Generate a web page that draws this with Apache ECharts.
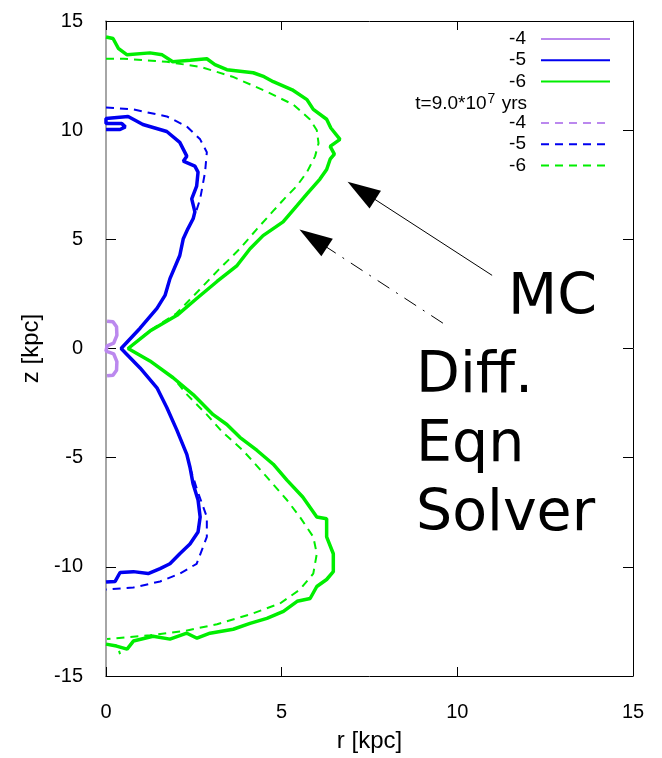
<!DOCTYPE html>
<html>
<head>
<meta charset="utf-8">
<script src="https://cdn.jsdelivr.net/npm/echarts@6/dist/echarts.min.js"></script>
<style>
html,body{margin:0;padding:0;background:#fff;}
#chart{width:662px;height:758px;}
</style>
</head>
<body>
<div id="chart"></div>
<script>
// ---- data (r [kpc], z [kpc]) ----
var xTicks = [0, 5, 10, 15];
var yTicks = [-15, -10, -5, 0, 5, 10, 15];

var mcMinus4 = [[0.03,1.25],[0.2,1.22],[0.3,1.0],[0.31,0.6],[0.22,0.25],[0.03,0.12],[0,0.12],[0,-0.12],[0.03,-0.12],[0.22,-0.25],[0.31,-0.6],[0.3,-1.0],[0.2,-1.22],[0.03,-1.25]];

var mcMinus5 = [[0,10.03],[0.4,10.03],[0.55,10.15],[0.45,10.3],[0,10.3],[0,10.53],[0.63,10.63],[1.05,10.26],[1.73,9.94],[2.1,9.44],[2.3,8.81],[2.2,8.58],[2.53,8.35],[2.62,8.08],[2.58,7.44],[2.44,6.85],[2.53,6.26],[2.48,5.94],[2.33,5.48],[2.2,5.03],[2.1,4.26],[1.82,3.2],[1.68,2.43],[1.45,1.84],[0.97,0.93],[0.43,0],[0.97,-0.89],[1.45,-1.8],[1.73,-2.7],[2.02,-3.75],[2.3,-4.85],[2.39,-5.44],[2.48,-6.21],[2.62,-6.94],[2.68,-7.72],[2.62,-8.4],[2.39,-8.95],[2.1,-9.4],[1.82,-9.86],[1.54,-10.08],[1.2,-10.31],[0.78,-10.22],[0.4,-10.26],[0.26,-10.67],[0,-10.7]];

var mcMinus6 = [[0,14.27],[0.2,14.2],[0.35,13.75],[0.6,13.45],[1.25,13.54],[1.6,13.45],[1.9,13.13],[2.4,13.2],[2.87,13.27],[3.1,13.0],[3.44,12.77],[4.19,12.63],[4.5,12.45],[4.76,12.22],[5.3,11.85],[5.72,11.4],[5.9,10.95],[6.28,10.5],[6.4,10.1],[6.66,9.58],[6.38,9.26],[6.5,8.9],[6.38,8.67],[6.28,8.2],[6.09,7.76],[5.72,7.08],[5.43,6.53],[5.04,5.8],[4.47,5.17],[4.1,4.57],[3.73,3.8],[3.16,3.07],[2.59,2.3],[2.02,1.52],[1.25,0.8],[0.63,0],[1.25,-0.57],[1.91,-1.34],[2.48,-2.11],[3.05,-3.03],[3.44,-3.48],[3.81,-4.07],[4.3,-4.67],[4.76,-5.3],[5.15,-6.03],[5.6,-6.8],[6.0,-7.72],[6.28,-7.8],[6.28,-8.63],[6.47,-9.4],[6.47,-10.22],[6.28,-10.58],[6.0,-10.9],[5.81,-11.45],[5.44,-11.58],[5.05,-12.04],[4.58,-12.36],[4.1,-12.59],[3.62,-12.86],[2.96,-13.04],[2.59,-13.27],[2.3,-13.04],[1.82,-13.31],[1.34,-13.18],[0.78,-13.4],[0.6,-13.77],[0.3,-13.63],[0,-13.54]];

var diffMinus4 = [[0.02,0.15],[0.02,-0.15]];

var diffMinus5 = [[0,11.04],[0.78,10.95],[1.73,10.63],[2.3,10.17],[2.68,9.58],[2.87,8.99],[2.82,8.08],[2.68,6.85],[2.55,6.2],[2.33,5.48],[2.2,5.03],[2.1,4.26],[1.82,3.2],[1.68,2.43],[1.45,1.84],[0.97,0.93],[0.43,0],[0.97,-0.89],[1.45,-1.8],[1.73,-2.7],[2.02,-3.75],[2.3,-4.85],[2.39,-5.44],[2.6,-6.5],[2.87,-7.72],[2.87,-8.63],[2.58,-9.86],[2.1,-10.31],[1.54,-10.67],[0.78,-10.95],[0,-11.04]];

var diffMinus6 = [[0,13.27],[0.5,13.27],[1.73,13.13],[2.68,12.9],[3.6,12.45],[4.57,11.77],[5.33,11.17],[5.8,10.5],[6.0,10.0],[6.05,9.4],[5.95,8.8],[5.72,8.08],[5.43,7.44],[5.1,6.9],[4.76,6.3],[4.3,5.48],[3.81,4.57],[3.2,3.6],[2.48,2.39],[2.0,1.6],[1.25,0.82],[0.63,0],[1.25,-0.57],[1.91,-1.34],[2.3,-2.1],[2.87,-3.03],[3.3,-3.8],[3.9,-4.67],[4.58,-5.89],[5.15,-6.94],[5.52,-7.72],[5.9,-8.63],[6.0,-9.4],[5.9,-10.31],[5.52,-11.04],[4.95,-11.68],[4.1,-12.18],[3.16,-12.63],[2.2,-12.95],[1.25,-13.13],[0.03,-13.31]];
var diffMinus6Tail = [[0.37,-13.85],[0.4,-14.0]];

// annotation arrows: [tail, head] in data coordinates
var arrowMC = [[10.99,3.35],[7.27,7.23]];
var arrowDiff = [[9.59,1.16],[5.90,5.04]];

var names = ['-4','-5','-6'];
var colors = ['#bb88ee','#0000f0','#00ee00'];

var chart = echarts.init(document.getElementById('chart'));
var font = 'Liberation Sans, Arial, sans-serif';

function solid(name, data, color) {
  return {name: name, type: 'line', data: data, showSymbol: false, symbol: 'none',
    lineStyle: {color: color, width: 3.5}, itemStyle: {color: color}, z: 3, animation: false};
}
function dashed(name, data, color) {
  return {name: name, type: 'line', data: data, showSymbol: false, symbol: 'none',
    lineStyle: {color: color, width: 2, type: [8, 6]}, itemStyle: {color: color}, z: 2, animation: false};
}

var legendCommon = {
  orient: 'vertical', right: 51, align: 'right', padding: 0,
  itemWidth: 69, itemHeight: 14, itemGap: 1.2,
  formatter: function (n) { return n.split(' ')[1]; },
  itemStyle: {opacity: 0, borderWidth: 0},
  textStyle: {fontSize: 19, fontFamily: font, color: '#000', lineHeight: 20, padding: [0, 10, 0, 0]},
  selectedMode: false
};

var option = {
  animation: false,
  backgroundColor: '#fff',
  grid: {left: 106, right: 29, top: 21, bottom: 78, containLabel: false},
  xAxis: [{
    type: 'value', min: 0, max: 15, interval: 5, position: 'bottom',
    axisLine: {show: true, onZero: false, lineStyle: {color: '#000', width: 1}},
    axisTick: {show: true, inside: true, length: 9, lineStyle: {color: '#000'}},
    splitLine: {show: false},
    axisLabel: {fontSize: 20, fontFamily: font, color: '#000', margin: 26,
      formatter: function (v) { return xTicks.indexOf(v) >= 0 ? String(v) : ''; }},
    name: 'r [kpc]', nameLocation: 'middle', nameGap: 53,
    nameTextStyle: {fontSize: 24, fontFamily: font, color: '#000'}
  }, {
    type: 'value', min: 0, max: 15, interval: 5, position: 'top',
    axisLine: {show: true, onZero: false, lineStyle: {color: '#000', width: 1}},
    axisTick: {show: true, inside: true, length: 9, lineStyle: {color: '#000'}},
    splitLine: {show: false}, axisLabel: {show: false}
  }],
  yAxis: [{
    type: 'value', min: -15, max: 15, interval: 5, position: 'left',
    axisLine: {show: true, onZero: false, lineStyle: {color: '#888', width: 1.5}},
    axisTick: {show: true, inside: true, length: 10, lineStyle: {color: '#000'}},
    splitLine: {show: false},
    axisLabel: {fontSize: 20, fontFamily: font, color: '#000', margin: 23,
      formatter: function (v) { return yTicks.indexOf(v) >= 0 ? String(v) : ''; }},
    name: 'z [kpc]', nameLocation: 'middle', nameGap: 62, nameRotate: 90,
    nameTextStyle: {fontSize: 24, fontFamily: font, color: '#000'}
  }, {
    type: 'value', min: -15, max: 15, interval: 5, position: 'right',
    axisLine: {show: true, onZero: false, lineStyle: {color: '#000', width: 1}},
    axisTick: {show: true, inside: true, length: 10, lineStyle: {color: '#000'}},
    splitLine: {show: false}, axisLabel: {show: false}
  }],
  legend: [
    Object.assign({}, legendCommon, {top: 29, data: ['MC ' + names[0], 'MC ' + names[1], 'MC ' + names[2]]}),
    Object.assign({}, legendCommon, {top: 113, data: ['Diff ' + names[0], 'Diff ' + names[1], 'Diff ' + names[2]]})
  ],
  graphic: [
    {type: 'text', right: 135, top: 92, z: 10,
      style: {text: 't=9.0*10{sup|7} yrs', font: '19px ' + font, fill: '#000',
        rich: {sup: {fontSize: 14, fontFamily: font, fill: '#000', padding: [0, 1, 9, 1]}}}},
    {type: 'text', left: 508, top: 271, z: 10, style: {text: 'MC', font: '57px DejaVu Sans', fill: '#000'}},
    {type: 'text', left: 416, top: 349, z: 10, style: {text: 'Diff.', font: '57px DejaVu Sans', fill: '#000'}},
    {type: 'text', left: 416, top: 418, z: 10, style: {text: 'Eqn', font: '57px DejaVu Sans', fill: '#000'}},
    {type: 'text', left: 416, top: 487, z: 10, style: {text: 'Solver', font: '57px DejaVu Sans', fill: '#000'}}
  ],
  series: [
    solid('MC -4', mcMinus4, colors[0]),
    solid('MC -5', mcMinus5, colors[1]),
    solid('MC -6', mcMinus6, colors[2]),
    dashed('Diff -4', diffMinus4, colors[0]),
    dashed('Diff -5', diffMinus5, colors[1]),
    dashed('Diff -6', diffMinus6, colors[2]),
    dashed('Diff -6', diffMinus6Tail, colors[2]),
    {
      name: 'arrows', type: 'line', data: [], silent: true, animation: false,
      markLine: {
        silent: true, animation: false,
        symbol: ['none', 'triangle'], symbolSize: [21, 33],
        label: {show: false},
        data: [
          [{coord: arrowMC[0], lineStyle: {color: '#000', width: 1, type: 'solid'}}, {coord: arrowMC[1]}],
          [{coord: arrowDiff[0], lineStyle: {color: '#000', width: 1, type: [14, 8, 2, 8]}}, {coord: arrowDiff[1]}]
        ],
        lineStyle: {color: '#000', width: 1},
        itemStyle: {color: '#000'}
      }
    }
  ]
};
chart.setOption(option);
</script>
</body>
</html>
